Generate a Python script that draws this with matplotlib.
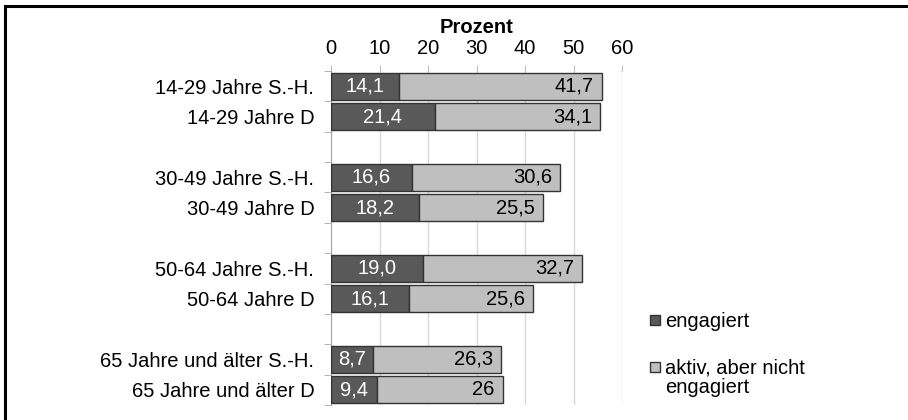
import numpy as np
import matplotlib
matplotlib.use("Agg")
import matplotlib.pyplot as plt
from matplotlib.lines import Line2D
from matplotlib.patches import Rectangle

plt.rcParams['font.family'] = ['Liberation Sans', 'DejaVu Sans']

# data
categories = ["14-29 Jahre S.-H.", "14-29 Jahre D",
              "30-49 Jahre S.-H.", "30-49 Jahre D",
              "50-64 Jahre S.-H.", "50-64 Jahre D",
              "65 Jahre und älter S.-H.", "65 Jahre und älter D"]
slots = [0, 1, 3, 4, 6, 7, 9, 10]   # with empty rows between groups
engagiert = [14.1, 21.4, 16.6, 18.2, 19.0, 16.1, 8.7, 9.4]
aktiv = [41.7, 34.1, 30.6, 25.5, 32.7, 25.6, 26.3, 26]
engagiert_txt = ["14,1", "21,4", "16,6", "18,2", "19,0", "16,1", "8,7", "9,4"]
aktiv_txt = ["41,7", "34,1", "30,6", "25,5", "32,7", "25,6", "26,3", "26"]
xticks = [0, 10, 20, 30, 40, 50, 60]

dark = "#595959"
light = "#bfbfbf"
edge = "#333333"
fs = 14.5
W, H = 908, 420

fig = plt.figure(figsize=(9.08, 4.2), dpi=100)
ax = fig.add_axes([331 / W, 1 - 405 / H, 291 / W, 334 / H])

y = np.array(slots)
ax.barh(y, engagiert, height=0.9, color=dark, edgecolor=edge, linewidth=1, zorder=3)
ax.barh(y, aktiv, left=engagiert, height=0.9, color=light, edgecolor=edge, linewidth=1, zorder=3)

for yi, e, a, et, at in zip(y, engagiert, aktiv, engagiert_txt, aktiv_txt):
    ax.text(e / 2, yi, et, ha="center", va="center", color="white", fontsize=fs, zorder=4)
    ax.annotate(at, (e + a, yi), xytext=(-8, 0), textcoords="offset pixels",
                ha="right", va="center", color="black", fontsize=fs, zorder=4)

ax.set_xlim(0, 60)
ax.set_ylim(10.5, -0.5)
ax.xaxis.tick_top()
ax.xaxis.set_label_position("top")
ax.set_xticks(xticks)
ax.set_xticklabels([str(v) for v in xticks], fontsize=fs)
ax.tick_params(axis="x", length=4, color="#bfbfbf", pad=5)
ax.set_xlabel("Prozent", fontsize=fs, fontweight="bold", labelpad=5)

ax.set_yticks(y)
ax.set_yticklabels(categories, fontsize=fs)
ax.set_yticks(np.arange(-0.5, 11, 1), minor=True)
ax.tick_params(axis="y", which="major", length=0, pad=12)
ax.tick_params(axis="y", which="minor", length=5, color="#a6a6a6")

ax.grid(axis="x", color="#d9d9d9", linewidth=1, zorder=0)
ax.set_axisbelow(True)
for s in ["top", "right", "bottom"]:
    ax.spines[s].set_visible(False)
ax.spines["left"].set_color("#a6a6a6")

# legend, drawn by hand so the square sits on the first text line
for col, top in [(dark, 315), (light, 362)]:
    fig.add_artist(Rectangle((650 / W, 1 - (top + 10) / H), 10 / W, 10 / H,
                             facecolor=col, edgecolor=edge, linewidth=1,
                             transform=fig.transFigure))
fig.text(665 / W, 1 - 327 / H, "engagiert", fontsize=fs, va="baseline")
fig.text(665 / W, 1 - 374 / H, "aktiv, aber nicht", fontsize=fs, va="baseline")
fig.text(665 / W, 1 - 393 / H, "engagiert", fontsize=fs, va="baseline")

# frame lines (left and top only)
fig.add_artist(Line2D([4.5 / W, 4.5 / W], [0, 1 - 5.5 / H], color="black", linewidth=2.2))
fig.add_artist(Line2D([4.5 / W, 1], [1 - 5.5 / H, 1 - 5.5 / H], color="black", linewidth=2.2))

fig.savefig("out.png", dpi=100)
